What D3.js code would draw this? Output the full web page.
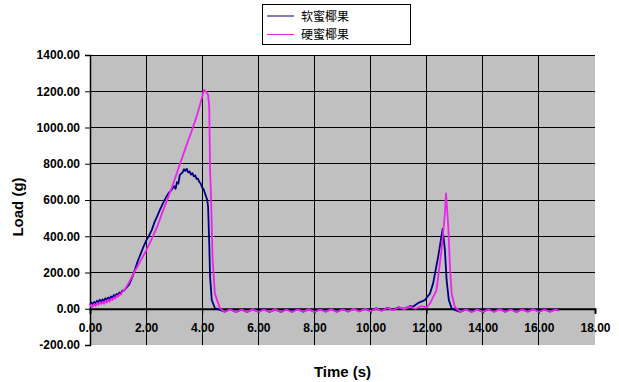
<!DOCTYPE html>
<html><head><meta charset="utf-8">
<script src="https://cdn.jsdelivr.net/npm/d3@7"></script>
<style>body{margin:0;background:#fff}svg{display:block}</style>
</head><body>
<svg id="c" width="619" height="382"></svg>
<script>
const seriesNames = ["软蜜椰果", "硬蜜椰果"];
const xTicks = [0, 2, 4, 6, 8, 10, 12, 14, 16, 18];
const yTicks = [-200, 0, 200, 400, 600, 800, 1000, 1200, 1400];
const xTitle = "Time (s)";
const yTitle = "Load (g)";

// [time (s), load (g)]
const softLoad = [
[0.00,22],[0.05,34],[0.10,24],[0.15,38],[0.20,28],[0.25,44],[0.30,36],[0.35,50],[0.40,40],[0.45,52],
[0.50,42],[0.55,58],[0.60,50],[0.65,62],[0.70,54],[0.75,68],[0.80,62],[0.85,76],[0.90,68],[0.95,82],
[1.00,76],[1.05,90],[1.10,84],[1.15,100],[1.20,98],[1.30,116],[1.40,136],[1.50,172],[1.60,215],[1.70,262],
[1.80,300],[1.90,340],[2.00,375],[2.10,402],[2.20,434],[2.30,478],[2.40,512],[2.50,548],[2.60,582],[2.70,612],
[2.80,638],[2.90,655],[3.00,676],[3.05,662],[3.10,698],[3.15,690],[3.20,738],[3.30,752],[3.35,770],[3.40,760],
[3.45,772],[3.50,752],[3.55,758],[3.60,740],[3.65,748],[3.70,730],[3.75,736],[3.80,716],[3.85,718],[3.90,698],
[3.95,690],[4.00,668],[4.05,660],[4.10,636],[4.18,600],[4.21,560],[4.25,360],[4.28,177],[4.34,48],[4.45,4],[4.63,-6],
[4.8,-16],[5.0,-2],[5.2,-18],[5.4,-4],[5.6,-17],[5.8,-3],[6.0,-16],[6.2,-2],[6.4,-18],[6.6,-4],
[6.8,-17],[7.0,-3],[7.2,-15],[7.4,-1],[7.6,-16],[7.8,-3],[8.0,-17],[8.2,-2],[8.4,-15],[8.6,-1],
[8.8,-16],[9.0,-2],[9.2,-15],[9.4,0],[9.6,-14],[9.8,0],[10.0,-12],[10.2,2],[10.4,-10],[10.6,5],
[10.8,-6],[11.0,8],[11.2,0],[11.4,14],[11.52,12],[11.7,32],[11.94,48],[12.12,85],[12.23,140],[12.41,287],
[12.57,440],[12.65,324],[12.71,159],[12.79,48],[12.89,2],[13.0,-6],[13.2,-17],[13.4,-2],[13.6,-16],[13.8,-3],
[14.0,-17],[14.2,-2],[14.4,-15],[14.6,-1],[14.8,-16],[15.0,-3],[15.2,-17],[15.4,-2],[15.6,-15],[15.8,-1],
[16.0,-16],[16.2,-3],[16.4,-15],[16.6,-2],[16.7,-10]
];
const hardLoad = [
[0.00,12],[0.05,22],[0.10,12],[0.15,26],[0.20,16],[0.25,32],[0.30,22],[0.35,36],[0.40,26],[0.45,38],
[0.50,28],[0.55,44],[0.60,34],[0.65,48],[0.70,40],[0.75,54],[0.80,48],[0.85,62],[0.90,56],[0.95,72],
[1.00,66],[1.05,80],[1.10,78],[1.15,94],[1.20,98],[1.30,122],[1.40,148],[1.50,178],[1.60,208],[1.70,236],
[1.80,264],[1.90,292],[2.00,320],[2.10,352],[2.20,385],[2.30,420],[2.40,455],[2.50,497],[2.60,540],[2.70,580],
[2.80,620],[2.90,662],[3.00,705],[3.10,750],[3.20,795],[3.30,840],[3.40,885],[3.50,928],[3.60,970],[3.70,1015],
[3.80,1060],[3.90,1115],[4.00,1170],[4.06,1207],[4.13,1198],[4.21,1180],[4.25,1115],[4.28,765],[4.31,637],[4.37,269],
[4.45,85],[4.63,2],
[4.8,-18],[5.0,-3],[5.2,-19],[5.4,-4],[5.6,-17],[5.8,-2],[6.0,-18],[6.2,-4],[6.4,-17],[6.6,-2],
[6.8,-18],[7.0,-4],[7.2,-19],[7.4,-3],[7.6,-16],[7.8,-2],[8.0,-18],[8.2,-4],[8.4,-17],[8.6,-2],
[8.8,-18],[9.0,-3],[9.2,-16],[9.4,-1],[9.6,-15],[9.8,0],[10.0,-14],[10.2,1],[10.4,-11],[10.6,4],
[10.8,-8],[11.0,7],[11.2,-2],[11.4,12],[11.6,0],[11.8,14],[12.0,8],[12.12,30],[12.35,103],[12.53,324],
[12.65,527],[12.69,637],[12.77,453],[12.83,232],[12.89,85],[13.0,11],[13.2,-18],[13.4,-3],[13.6,-19],[13.8,-4],
[14.0,-17],[14.2,-3],[14.4,-18],[14.6,-2],[14.8,-17],[15.0,-4],[15.2,-19],[15.4,-3],[15.6,-17],[15.8,-2],
[16.0,-18],[16.2,-4],[16.4,-17],[16.6,-3],[16.7,-10]
];
const seriesColors = ["#000080", "#ee22ee"];

const svg = d3.select("#c");
const x = d3.scaleLinear().domain([0, 18]).range([90, 595]);
const y = d3.scaleLinear().domain([-200, 1400]).range([345, 55]);
const font = "'Liberation Sans', Arial, sans-serif";
const fmt = d => d3.format(".2f")(d).replace("\u2212", "-");

// plot area
svg.append("rect").attr("x", x(0)).attr("y", y(1400))
  .attr("width", x(18) - x(0)).attr("height", y(-200) - y(1400)).attr("fill", "#c0c0c0");

// gridlines
svg.append("g").selectAll("line").data(yTicks.filter(d => d > 0)).join("line")
  .attr("x1", x(0)).attr("x2", x(18)).attr("y1", d => y(d)).attr("y2", d => y(d))
  .attr("stroke", "#000").attr("stroke-width", 1).attr("shape-rendering", "crispEdges");
svg.append("g").selectAll("line").data(xTicks.filter(d => d > 0 && d < 18)).join("line")
  .attr("x1", d => x(d)).attr("x2", d => x(d)).attr("y1", y(1400)).attr("y2", y(-200))
  .attr("stroke", "#000").attr("stroke-width", 1).attr("shape-rendering", "crispEdges");

// y axis
const yAxis = svg.append("g").attr("transform", `translate(${x(0)},0)`)
  .call(d3.axisLeft(y).tickValues(yTicks).tickSize(5).tickPadding(5).tickFormat(fmt));
yAxis.select(".domain").attr("stroke", "#000").attr("stroke-width", 1.5);
yAxis.selectAll("text").attr("font-family", font).attr("font-size", 12).attr("font-weight", "bold").attr("fill", "#000");

// x axis at y=0
const xAxis = svg.append("g").attr("transform", `translate(0,${y(0)})`)
  .call(d3.axisBottom(x).tickValues(xTicks).tickSize(5).tickPadding(10).tickSizeOuter(5).tickFormat(fmt));
xAxis.select(".domain").attr("stroke", "#000").attr("stroke-width", 2);
xAxis.selectAll("text").attr("font-family", font).attr("font-size", 12).attr("font-weight", "bold").attr("fill", "#000");

// lines
const line = d3.line().x(d => x(d[0])).y(d => y(d[1]));
[softLoad, hardLoad].forEach((s, i) => {
  svg.append("path").datum(s).attr("d", line).attr("fill", "none")
    .attr("stroke", seriesColors[i]).attr("stroke-width", 1.8).attr("stroke-linejoin", "round");
});

// axis titles
svg.append("text").attr("x", (x(0) + x(18)) / 2).attr("y", 377).attr("text-anchor", "middle")
  .attr("font-family", font).attr("font-size", 15).attr("font-weight", "bold").text(xTitle);
svg.append("text").attr("transform", "translate(23,207) rotate(-90)").attr("text-anchor", "middle")
  .attr("font-family", font).attr("font-size", 15).attr("font-weight", "bold").text(yTitle);

// legend
const lg = svg.append("g");
lg.append("rect").attr("x", 262.5).attr("y", 4.5).attr("width", 148).attr("height", 40)
  .attr("fill", "#fff").attr("stroke", "#000").attr("stroke-width", 1);
seriesNames.forEach((n, i) => {
  const cy = 16 + i * 18.5;
  lg.append("line").attr("x1", 267).attr("x2", 294).attr("y1", cy).attr("y2", cy)
    .attr("stroke", seriesColors[i]).attr("stroke-width", 1);
  lg.append("text").attr("x", 301).attr("y", cy + 4.5).attr("font-family", "'Noto Sans CJK SC', sans-serif")
    .attr("font-size", 12).text(n);
});
</script>
</body></html>
